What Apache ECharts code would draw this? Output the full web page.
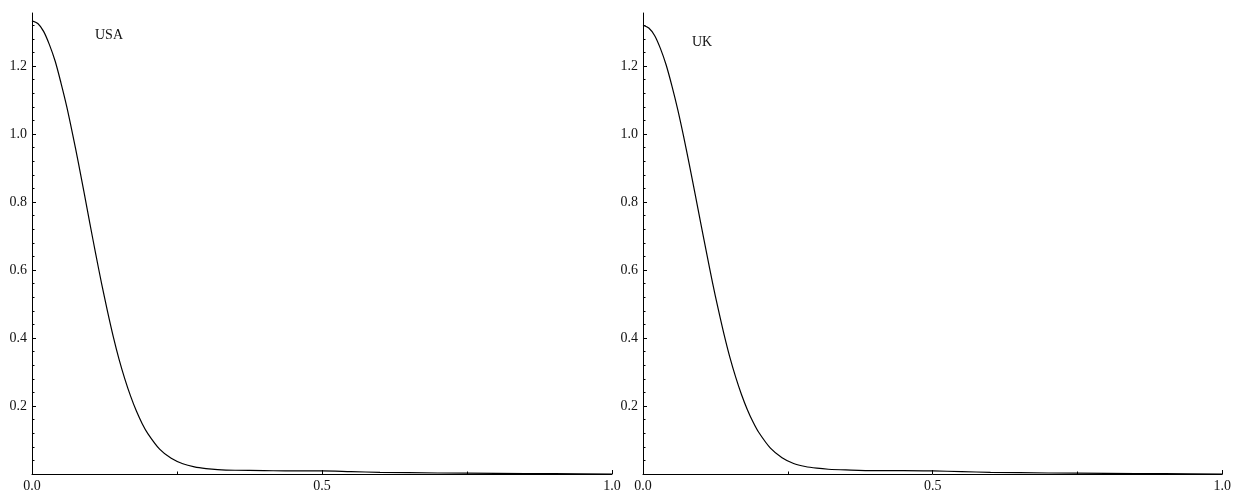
<!DOCTYPE html>
<html>
<head>
<meta charset="utf-8">
<script src="https://cdn.jsdelivr.net/npm/echarts@6/dist/echarts.min.js"></script>
<style>html,body{margin:0;padding:0;background:#fff}#c{width:1234px;height:496px}</style>
</head>
<body>
<div id="c"></div>
<script>
// x positions (shared)
var xs = [0, 0.01, 0.02, 0.03, 0.04, 0.05, 0.06, 0.07, 0.08, 0.09, 0.10, 0.11, 0.12, 0.13, 0.14, 0.15, 0.16, 0.17, 0.18, 0.19, 0.20, 0.22, 0.24, 0.26, 0.28, 0.30, 0.32, 0.35, 0.40, 0.45, 0.50, 0.55, 0.60, 0.70, 0.80, 0.90, 1.00];
var usa = [1.333, 1.325, 1.302, 1.263, 1.214, 1.150, 1.080, 1.000, 0.915, 0.826, 0.735, 0.646, 0.560, 0.480, 0.405, 0.338, 0.280, 0.229, 0.185, 0.148, 0.118, 0.073, 0.046, 0.030, 0.021, 0.016, 0.013, 0.011, 0.010, 0.009, 0.009, 0.007, 0.005, 0.003, 0.002, 0.001, 0.000];
var uk  = [1.320, 1.312, 1.290, 1.252, 1.203, 1.141, 1.072, 0.994, 0.910, 0.823, 0.735, 0.648, 0.563, 0.484, 0.410, 0.343, 0.285, 0.234, 0.190, 0.153, 0.122, 0.076, 0.048, 0.031, 0.022, 0.017, 0.014, 0.012, 0.010, 0.010, 0.009, 0.007, 0.005, 0.003, 0.002, 0.001, 0.000];
var yMajor = [0.2, 0.4, 0.6, 0.8, 1.0, 1.2];
var yMinor = [0.04, 0.08, 0.12, 0.16, 0.24, 0.28, 0.32, 0.36, 0.44, 0.48, 0.52, 0.56, 0.64, 0.68, 0.72, 0.76, 0.84, 0.88, 0.92, 0.96, 1.04, 1.08, 1.12, 1.16, 1.24, 1.28, 1.32];
var xLabels = [0, 0.5, 1.0];
var panelTitles = ['USA', 'UK'];

function pairs(vals){ return xs.map(function(x,i){ return [x, vals[i]]; }); }

var FONT = '"Liberation Serif", "Times New Roman", serif';
var YMAX = 1.356;

function xAxis(g){
  return {
    type:'value', gridIndex:g, min:0, max:1, interval:0.5,
    axisLine:{show:true, onZero:false, lineStyle:{color:'#000', width:1}},
    axisTick:{show:true, inside:true, length:4, lineStyle:{color:'#000'}},
    minorTick:{show:true, splitNumber:2, length:2.5, lineStyle:{color:'#000'}},
    splitLine:{show:false}, minorSplitLine:{show:false},
    axisLabel:{show:true, customValues:xLabels, margin:5, color:'#111', fontFamily:FONT, fontSize:14,
      formatter:function(v){ return v.toFixed(1); }}
  };
}
function yAxisMajor(g){
  return {
    type:'value', gridIndex:g, min:0, max:YMAX, position:'left',
    axisLine:{show:true, onZero:false, lineStyle:{color:'#000', width:1}},
    axisTick:{show:true, inside:true, length:4, customValues:yMajor, lineStyle:{color:'#000'}},
    splitLine:{show:false},
    axisLabel:{show:true, customValues:yMajor, margin:5, color:'#111', fontFamily:FONT, fontSize:14,
      formatter:function(v){ return v.toFixed(1); }}
  };
}
function yAxisMinor(g){
  return {
    type:'value', gridIndex:g, min:0, max:YMAX, position:'left', offset:0,
    axisLine:{show:false},
    axisTick:{show:true, inside:true, length:2.5, customValues:yMinor, lineStyle:{color:'#000'}},
    splitLine:{show:false},
    axisLabel:{show:false}
  };
}

var chart = echarts.init(document.getElementById('c'), null, {renderer:'canvas'});
chart.setOption({
  animation:false,
  backgroundColor:'#fff',
  title:[
    {text:panelTitles[0], left:95, top:28, textStyle:{fontFamily:FONT, fontSize:14, fontWeight:'normal', color:'#111'}, padding:0},
    {text:panelTitles[1], left:692, top:35, textStyle:{fontFamily:FONT, fontSize:14, fontWeight:'normal', color:'#111'}, padding:0}
  ],
  grid:[
    {left:32, top:13, width:580, height:461, containLabel:false},
    {left:643, top:13, width:580, height:461, containLabel:false}
  ],
  xAxis:[xAxis(0), xAxis(1)],
  yAxis:[yAxisMajor(0), yAxisMinor(0), yAxisMajor(1), yAxisMinor(1)],
  series:[
    {type:'line', xAxisIndex:0, yAxisIndex:0, data:pairs(usa), smooth:0.3, showSymbol:false, lineStyle:{color:'#000', width:1.2}},
    {type:'line', xAxisIndex:1, yAxisIndex:2, data:pairs(uk), smooth:0.3, showSymbol:false, lineStyle:{color:'#000', width:1.2}}
  ]
});
</script>
</body>
</html>
